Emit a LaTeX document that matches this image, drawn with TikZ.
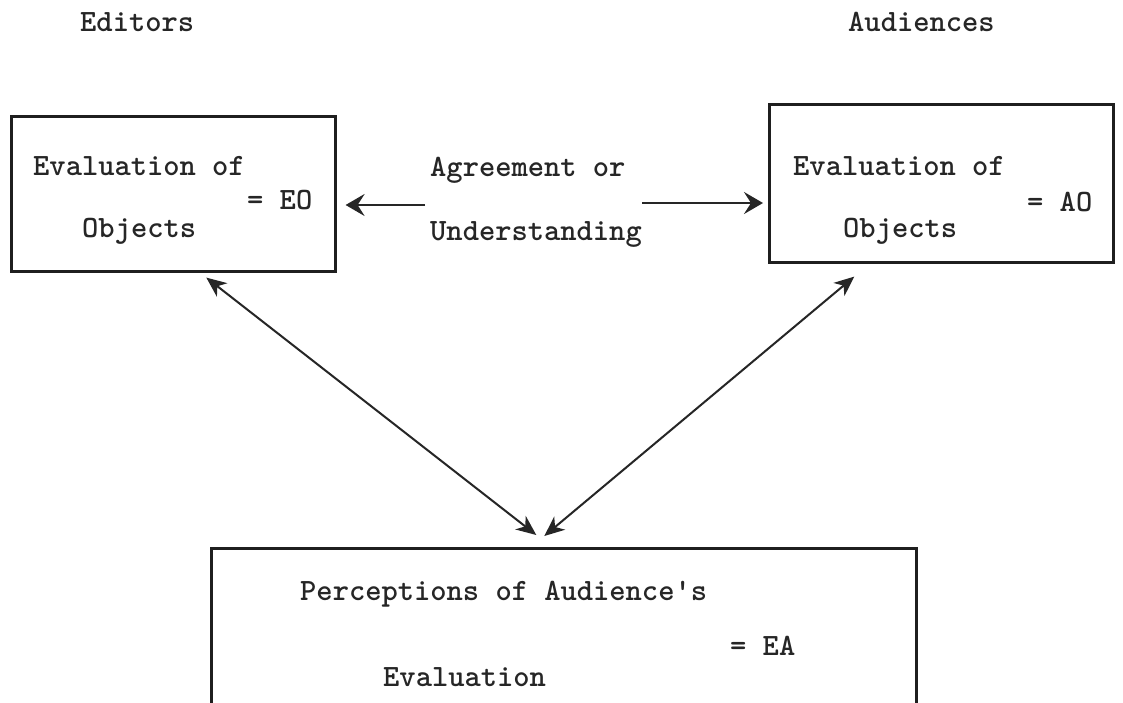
\documentclass[tikz,border=0pt]{standalone}
\usetikzlibrary{arrows.meta,calc}
\begin{document}
\begin{tikzpicture}[x=1pt,y=-1pt,
  box/.style={draw=black!88, line width=2.6pt, inner sep=0pt, anchor=north west},
  txt/.style={anchor=base west, inner sep=0pt, text=black!85, font=\ttfamily\bfseries\fontsize{31}{36}\selectfont},
  arr/.style={draw=black!85, line width=2.2pt, -{Stealth[length=19pt,width=22pt,inset=7pt]}},
  dbl/.style={draw=black!85, line width=2pt, {Stealth[length=20pt,width=17pt,inset=6pt]}-{Stealth[length=20pt,width=17pt,inset=6pt]}}]
\useasboundingbox (0,0) rectangle (1123,702);
\fill[white] (0,0) rectangle (1123,702);
% headings
\node[txt] (ed) at (80,31) {Editors};
\node[txt] (au) at (848,31) {Audiences};
% boxes
\node[box, minimum width=324pt, minimum height=155pt] (EO) at (10,115) {};
\node[box, minimum width=344pt, minimum height=158pt] (AO) at (768,103) {};
\node[box, minimum width=705pt, minimum height=190pt] (EA) at (210,547) {};
% left box text
\node[txt] (eo1) at (33,175) {Evaluation of};
\node[txt] (eo2) at (247,209) {= EO};
\node[txt] (eo3) at (82,237) {Objects};
% right box text
\node[txt] (ao1) at (793,175) {Evaluation of};
\node[txt] (ao2) at (1027,211) {= AO};
\node[txt] (ao3) at (843,237) {Objects};
% middle text
\node[txt] (ag) at (430,176) {Agreement or};
\node[txt] (un) at (430,240) {Understanding};
% bottom box text
\node[txt] (ea1) at (300,600) {Perceptions of Audience\textquotesingle s};
\node[txt] (ea2) at (730,655) {= EA};
\node[txt] (ea3) at (383,686) {Evaluation};
% horizontal arrows
\coordinate (lt) at (425,205);
\coordinate (rt) at (642,203);
\draw[arr] (lt) -- ($(lt -| EO.east)+(9,0)$);
\draw[arr] (rt) -- ($(rt -| AO.west)+(-5,0)$);
% diagonal arrows
\draw[dbl] ($(EO.south)+(33,5)$) -- ($(EA.north)+(-27.5,-12)$);
\draw[dbl] ($(AO.south)+(-87,13)$) -- ($(EA.north)+(-19.5,-11)$);
\end{tikzpicture}
\end{document}
